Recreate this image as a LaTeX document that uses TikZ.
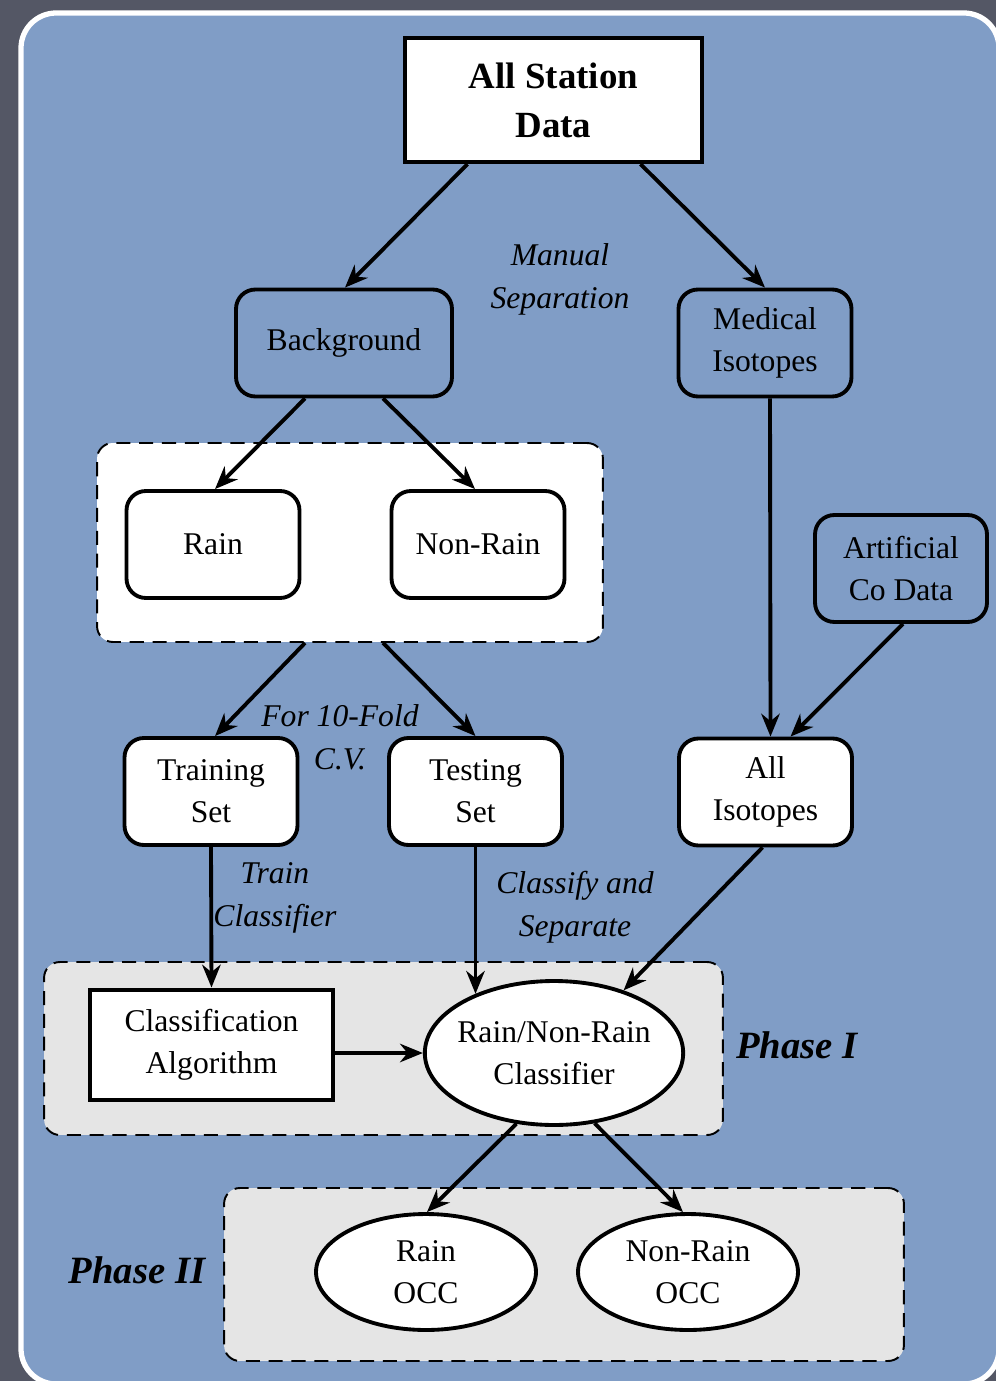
\documentclass[tikz,border=0pt]{standalone}
\usepackage{fontspec}
\setmainfont{Liberation Serif}
\usetikzlibrary{arrows.meta,calc,shapes.geometric}
\definecolor{slate}{RGB}{84,87,101}
\definecolor{panelblue}{RGB}{128,157,198}
\definecolor{phasegray}{RGB}{229,229,229}
\begin{document}
\begin{tikzpicture}[x=0.02cm,y=-0.02cm,
		txt/.style={font=\fontsize{18}{24}\selectfont,align=center},
		box/.style={txt,draw,line width=2.2pt,rounded corners=11pt,inner sep=0pt,minimum width=3.46cm,minimum height=2.14cm},
		whitebox/.style={box,fill=white},
		oval/.style={txt,ellipse,draw,fill=white,line width=2.2pt,inner sep=0pt},
		group/.style={draw,dash pattern=on 8pt off 5pt,line width=1.1pt,rounded corners=9pt,inner sep=0pt},
		link/.style={line width=2.2pt,-{Stealth[length=13pt,width=10.5pt]}},
		note/.style={font=\itshape\fontsize{18}{24.5}\selectfont,align=center},
		phase/.style={font=\bfseries\itshape\fontsize{22}{26}\selectfont}]
		\useasboundingbox (0,0) rectangle (996,1381);
		\fill[slate] (0,0) rectangle (996,1381);
		\draw[white,line width=3pt,fill=panelblue,rounded corners=20pt] (21,13) rectangle (999,1384);
		
		\node[whitebox,rounded corners=0pt,line width=2.4pt,minimum width=5.94cm,minimum height=2.48cm,font=\bfseries\fontsize{21}{28}\selectfont] (data) at (553.5,100) {All Station\\Data};
		\node[box,minimum width=4.32cm] (bg) at (344,343) {Background};
		\node[box] (med) at (765,343) {Medical\\Isotopes};
		\node[note] (manual) at (560,279) {Manual\\Separation};
		
		\node[group,fill=white,minimum width=10.12cm,minimum height=3.98cm] (split) at (350,542.5) {};
		\node[whitebox] (rain) at (213,544.5) {Rain};
		\node[whitebox] (nonrain) at (478,544.5) {Non-Rain};
		\node[box,minimum width=3.44cm] (art) at (901,568.5) {Artificial\\Co Data};
		
		\node[whitebox] (train) at (211,791.5) {Training\\Set};
		\node[whitebox] (test) at (475.5,791.5) {Testing\\Set};
		\node[whitebox] (alliso) at (765.5,792) {All\\Isotopes};
		\node[note] (cv) at (340,737) {For 10-Fold\\C.V.};
		\node[note] (trainnote) at (275,898) {Train\\Classifier};
		\node[note] (sepnote) at (575,907) {Classify and\\Separate};
		
		\node[group,fill=phasegray,minimum width=13.58cm,minimum height=3.46cm] (phaseone) at (383.5,1048.5) {};
		\node[group,fill=phasegray,minimum width=13.6cm,minimum height=3.46cm] (phasetwo) at (564,1274.5) {};
		\node[whitebox,rounded corners=0pt,line width=2.8pt,minimum width=4.86cm,minimum height=2.2cm] (algo) at (211.5,1045) {Classification\\Algorithm};
		\node[oval,inner xsep=-3pt,minimum width=5.16cm,minimum height=2.88cm] (clf) at (554,1053) {Rain/Non-Rain\\Classifier};
		\node[oval,minimum width=4.4cm,minimum height=2.32cm] (rocc) at (426,1272) {Rain\\OCC};
		\node[oval,minimum width=4.4cm,minimum height=2.32cm] (nrocc) at (688,1272) {Non-Rain\\OCC};
		\node[phase] (p1) at (797,1045) {Phase I};
		\node[phase] (p2) at (137,1270) {Phase II};
		
		\draw[link] ($(data.south)+(-86,0)$) -- ($(bg.north)+(1,0)$);
		\draw[link] ($(data.south)+(87,0)$) -- (med.north);
		\draw[link] ($(bg.south)+(-39,0)$) -- ($(rain.north)+(2,0)$);
		\draw[link] ($(bg.south)+(39,0)$) -- ($(nonrain.north)+(-3,0)$);
		\draw[link] ($(split.south)+(-45,0)$) -- ($(train.north)+(4,0)$);
		\draw[link] ($(split.south)+(33,0)$) -- (test.north);
		\draw[link] ($(med.south)+(5,0)$) -- ($(alliso.north)+(5,0)$);
		\draw[link] ($(art.south)+(2,0)$) -- ($(alliso.north)+(25,0)$);
		\draw[link] (train.south) -- (algo.north);
		\draw[link] (test.south) -- (test.south |- clf.143);
		\draw[link] ($(alliso.south)+(-3,0)$) -- (clf.42);
		\draw[link] (algo.east |- clf.west) -- (clf.west);
		\draw[link] (clf.242) -- ($(rocc.north)+(1,0)$);
		\draw[link] (clf.300) -- ($(nrocc.north)+(-5,0)$);
	\end{tikzpicture}
\end{document}
